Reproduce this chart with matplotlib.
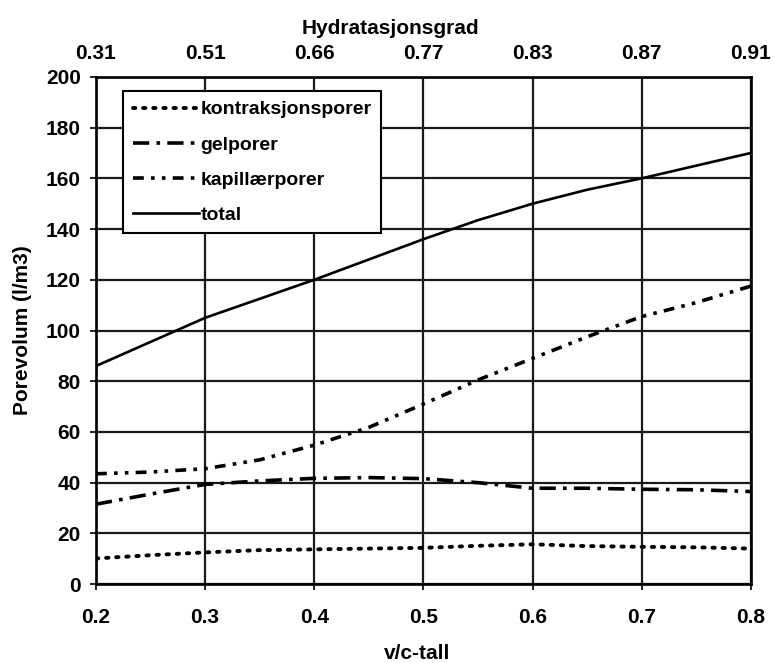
import matplotlib.pyplot as plt

plt.rcParams['font.family'] = ['Liberation Sans', 'DejaVu Sans']
plt.rcParams['font.weight'] = 'bold'

# v/c-tall og porevolum (l/m3)
vc = [0.20, 0.25, 0.30, 0.35, 0.40, 0.45, 0.50, 0.55, 0.60, 0.65, 0.70, 0.75, 0.80]
kontraksjon = [10.1, 11.4, 12.5, 13.4, 13.7, 14.0, 14.3, 15.1, 15.7, 15.0, 14.7, 14.5, 14.0]
gel = [31.5, 35.5, 39.3, 40.7, 41.7, 42.0, 41.6, 40.0, 37.8, 37.8, 37.4, 37.2, 36.5]
kapillaer = [43.5, 44.2, 45.5, 49.0, 54.8, 61.8, 71.0, 80.5, 89.0, 97.5, 105.5, 111.0, 117.5]
total = [86.0, 95.5, 105.0, 112.5, 120.0, 128.0, 136.0, 143.5, 150.0, 155.5, 160.0, 165.0, 170.0]

# Hydratasjonsgrad paa toppaksen
hyd_pos = [0.2, 0.3, 0.4, 0.5, 0.6, 0.7, 0.8]
hyd_lab = ['0.31', '0.51', '0.66', '0.77', '0.83', '0.87', '0.91']

fig = plt.figure(figsize=(7.74, 6.63), dpi=100)
ax = fig.add_axes([0.124, 0.119, 0.846, 0.765])

ax.plot(vc, kontraksjon, color='black', lw=2.8, linestyle=(0, (0.6, 2.0)),
        dash_capstyle='round', label='kontraksjonsporer')
ax.plot(vc, gel, color='black', lw=2.6, linestyle=(0, (4.5, 2.0, 1.0, 2.0)), label='gelporer')
ax.plot(vc, kapillaer, color='black', lw=2.6, linestyle=(0, (3.0, 2.0, 1.0, 2.0, 1.0, 2.0)),
        label='kapillærporer')
ax.plot(vc, total, color='black', lw=1.9, label='total')

ax.set_xlim(0.2, 0.8)
ax.set_ylim(0, 200)
ax.set_xticks([0.2, 0.3, 0.4, 0.5, 0.6, 0.7, 0.8])
ax.set_yticks(range(0, 201, 20))
ax.grid(True, color='#1a1a1a', lw=1.6)
for s in ax.spines.values():
    s.set_linewidth(1.9)
ax.tick_params(axis='x', labelsize=15, width=1.2, length=4, pad=13)
ax.tick_params(axis='y', labelsize=15, width=1.2, length=4, pad=7)

ax.set_xlabel('v/c-tall', fontsize=15, fontweight='bold')
ax.xaxis.set_label_coords(0.49, -0.118)
ax.set_ylabel('Porevolum (l/m3)', fontsize=15, fontweight='bold', labelpad=10)

top = ax.twiny()
top.set_xlim(ax.get_xlim())
top.set_xticks(hyd_pos)
top.set_xticklabels(hyd_lab)
top.tick_params(labelsize=15, length=0, pad=10)
fig.text(390 / 774, 1 - 28 / 663, 'Hydratasjonsgrad', fontsize=15, fontweight='bold',
         ha='center', va='center')

leg = ax.legend(loc='upper left', bbox_to_anchor=(0.041, 0.972), borderaxespad=0, fontsize=14,
                frameon=True, fancybox=False, edgecolor='black', framealpha=1,
                handlelength=3.4, handletextpad=0.1, labelspacing=0.9, borderpad=0.5)
leg.get_frame().set_linewidth(1.5)

plt.savefig('out.png', dpi=100)
